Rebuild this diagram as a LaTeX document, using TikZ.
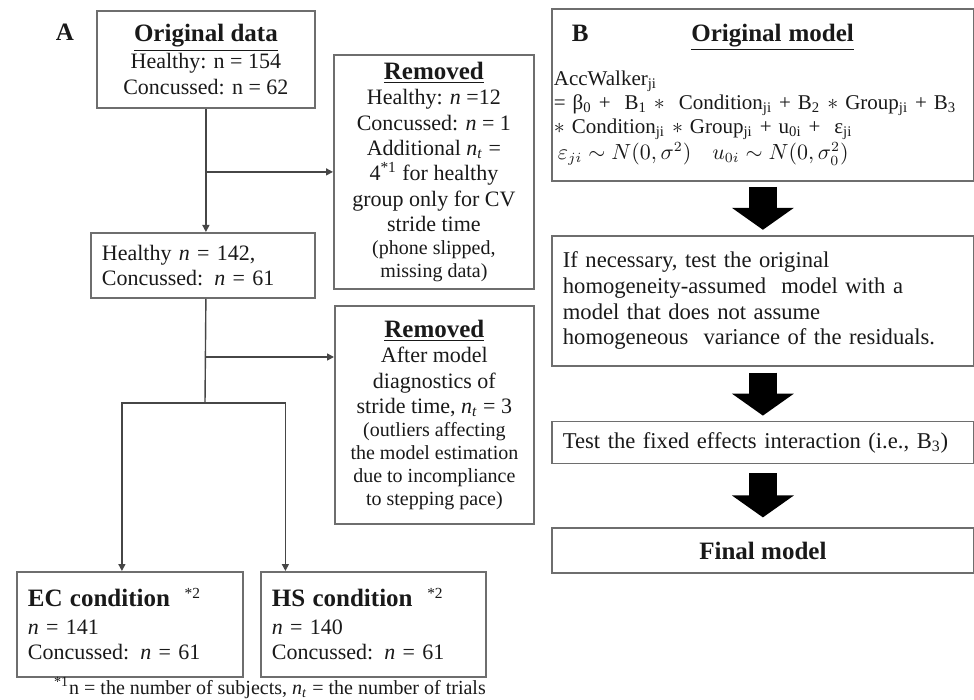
\documentclass[tikz,border=0pt]{standalone}
\usepackage{fontspec}
\setmainfont{Liberation Serif}
\usetikzlibrary{arrows.meta,positioning}
\definecolor{boxline}{RGB}{110,110,110}
\definecolor{lineblack}{RGB}{70,70,70}
\definecolor{textblack}{RGB}{25,25,25}
\newcommand\ttl[1]{{\fontsize{12.5}{13}\selectfont\underline{\textbf{#1}}}}
\newcommand\nt{\textit{n}\textsubscript{\textit{t}}}

\begin{document}
\begin{tikzpicture}[x=0.5pt, y=-0.5pt,
  box/.style={rectangle, draw=boxline, line width=0.9pt, align=center, text=textblack, font=\fontsize{11}{12.7}\selectfont, inner sep=0pt},
  lbox/.style={box, align=left, inner xsep=5.5pt},
  arr/.style={-{Triangle[length=3.5pt,width=3.5pt]}, draw=lineblack, line width=0.7pt},
  bigarr/.style={-{Triangle[length=11pt,width=30.5pt]}, line width=14pt, draw=black},
  sm/.style={font=\fontsize{10}{11.5}\selectfont}
]
\useasboundingbox (0,0) rectangle (974,700);

\node[font=\fontsize{12.5}{13}\selectfont\bfseries, text=textblack] (la) at (65,32) {A};
\node[box, minimum width=109pt, minimum height=48.5pt, anchor=north west] (d1) at (96,10) {\ttl{Original data}\\[0.8pt]Healthy: n = 154\\Concussed: n = 62};
\node[box, minimum width=100pt, minimum height=117pt, anchor=north west] (d3) at (333,54) {\ttl{Removed}\\Healthy: \textit{n} =12\\Concussed: \textit{n} = 1\\Additional \nt{} =\\4\textsuperscript{*1} for healthy\\group only for CV\\stride time\\[-1.2pt]{\fontsize{10}{11.5}\selectfont (phone slipped,}\\[-1.2pt]{\fontsize{10}{11.5}\selectfont missing data)}};
\node[lbox, text width=101pt, minimum height=32.5pt, anchor=north west] (d2) at (90,232) {Healthy \textit{n} = 142,\\Concussed: \textit{n} = 61};
\node[box, minimum width=99.5pt, minimum height=109pt, anchor=north west] (d4) at (334,305) {\ttl{Removed}\\After model\\diagnostics of\\stride time, \nt{} = 3\\[-1.2pt]{\fontsize{10}{11.5}\selectfont (outliers affecting}\\[-1.2pt]{\fontsize{10}{11.5}\selectfont the model estimation}\\[-1.2pt]{\fontsize{10}{11.5}\selectfont due to incompliance}\\[-1.2pt]{\fontsize{10}{11.5}\selectfont to stepping pace)}};
\node[lbox, text width=102pt, minimum height=52.5pt, anchor=north west] (d5) at (16,571) {{\fontsize{12.5}{13}\selectfont\textbf{EC condition}}\ \ \textsuperscript{*2}\\[1pt]\textit{n} = 141\\Concussed: \textit{n} = 61};
\node[lbox, text width=101.5pt, minimum height=52.5pt, anchor=north west] (d6) at (260,571) {{\fontsize{12.5}{13}\selectfont\textbf{HS condition}}\ \ \textsuperscript{*2}\\[1pt]\textit{n} = 140\\Concussed: \textit{n} = 61};
\node[sm, text=textblack] (fn) at (270,688) {\textsuperscript{*1}n = the number of subjects, \nt{} = the number of trials};

\coordinate (s2) at (205,357);
\coordinate (s1) at (205,403);
\draw[arr] (d1.south) -- (d1.south |- d2.north);
\draw[arr] (d1.south |- d3.west) -- (d3.west);
\draw[draw=lineblack, line width=0.7pt] (d1.south |- d2.south) -- (s1);
\draw[arr] (s2) -- (s2 -| d4.west);
\draw[arr] (s1) -| ([xshift=-4pt]d5.north);
\draw[arr] (s1) -| ([xshift=-44pt]d6.north);

\node[box, align=left, text width=209pt, inner xsep=1pt, minimum height=86pt, font=\fontsize{10.5}{12}\selectfont, anchor=north west] (m1) at (551,8) {\makebox[209pt][l]{\hspace*{9pt}{\fontsize{12.5}{13}\selectfont\textbf{B}\hfill\underline{\textbf{Original model}}}\hspace*{59pt}}\\[9pt]
\mbox{AccWalker\textsubscript{ji}}\\
\mbox{= β\textsubscript{0} +\ \ B\textsubscript{1} $\ast$\ \ Condition\textsubscript{ji} + B\textsubscript{2} $\ast$ Group\textsubscript{ji} + B\textsubscript{3}}\\
\mbox{$\ast$ Condition\textsubscript{ji} $\ast$ Group\textsubscript{ji} + u\textsubscript{0i} +\ \ ε\textsubscript{ji}}\\[1pt]
\mbox{\hspace*{2pt}$\varepsilon_{ji}\sim N(0,\sigma^2)$\ \ \ $u_{0i}\sim N(0,\sigma_0^2)$}};
\node[lbox, text width=200pt, minimum height=65pt, below=26.5pt of m1, font=\fontsize{11.3}{12.8}\selectfont] (m2) {If necessary, test the original\\homogeneity-assumed\ \ model with a\\model that does not assume\\homogeneous\ \ variance of the residuals.};
\node[lbox, text width=200pt, minimum height=21pt, below=27pt of m2, font=\fontsize{11.3}{12.8}\selectfont] (m3) {Test the fixed effects interaction (i.e., B\textsubscript{3})};
\node[box, minimum width=211pt, minimum height=22.5pt, font=\fontsize{12.5}{13}\selectfont\bfseries, below=31.5pt of m3] (m4) {Final model};

\draw[bigarr] ([yshift=-2.5pt]m1.south) -- ([yshift=2.5pt]m2.north);
\draw[bigarr] ([yshift=-3pt]m2.south) -- ([yshift=2.5pt]m3.north);
\draw[bigarr] ([yshift=-4.5pt]m3.south) -- ([yshift=5pt]m4.north);
\end{tikzpicture}
\end{document}
